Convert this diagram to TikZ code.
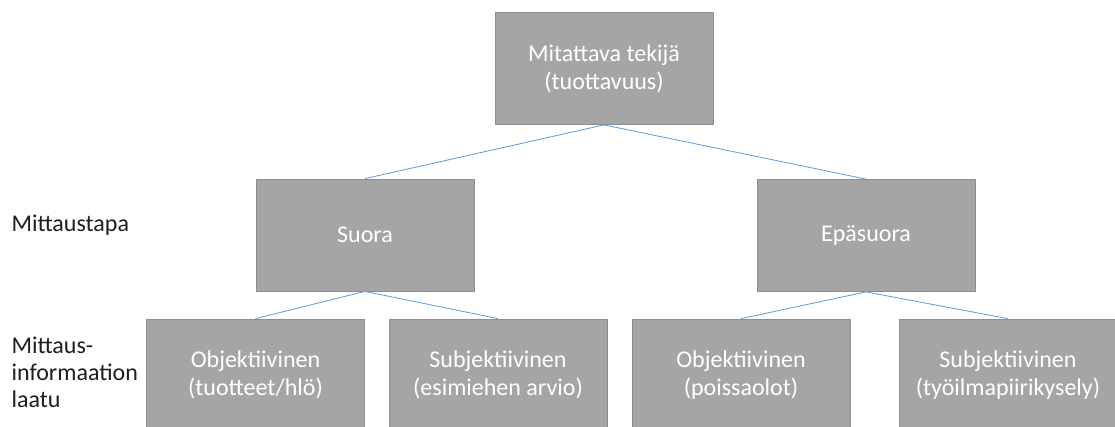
\documentclass[tikz,border=0pt]{standalone}
\usepackage{fontspec}
\setmainfont{Carlito}
\usepackage{tikz}

\definecolor{boxgray}{HTML}{A5A5A5}
\definecolor{boxedge}{HTML}{8E8E8E}
\definecolor{linkblue}{HTML}{5B9BD5}
\definecolor{labeltext}{HTML}{1E1E1E}

\begin{document}
\begin{tikzpicture}[x=1pt, y=-1pt,
    levelbox/.style={rectangle, draw=boxedge, line width=0.8pt, fill=boxgray,
        minimum width=218pt, minimum height=112pt, inner sep=0pt,
        text=white, align=center, font=\fontsize{24}{28}\selectfont},
    sidelabel/.style={anchor=west, align=left, text=labeltext,
        font=\fontsize{24}{27}\selectfont},
    link/.style={draw=linkblue, line width=0.8pt}]
    \clip (0,0) rectangle (1115,426);
    \fill[white] (0,0) rectangle (1115,426);

    % Top level
    \node[levelbox] (factor) at (604, 68.5) {Mitattava tekijä\\(tuottavuus)};

    % Measuring method
    \node[levelbox] (direct) at (365, 235) {Suora};
    \node[levelbox] (indirect) at (866, 235.5) {Epäsuora};

    % Quality of information
    \node[levelbox] (dirobj) at (255.5, 375) {Objektiivinen\\(tuotteet/hlö)};
    \node[levelbox] (dirsubj) at (498, 375) {Subjektiivinen\\(esimiehen arvio)};
    \node[levelbox] (indobj) at (741, 375) {Objektiivinen\\(poissaolot)};
    \node[levelbox] (indsubj) at (1008, 375) {Subjektiivinen\\(työilmapiirikysely)};

    % Links
    \draw[link] (factor.south) -- (direct.north);
    \draw[link] (factor.south) -- (indirect.north);
    \draw[link] (direct.south) -- (dirobj.north);
    \draw[link] (direct.south) -- (dirsubj.north);
    \draw[link] (indirect.south) -- (indobj.north);
    \draw[link] (indirect.south) -- (indsubj.north);

    % Labels
    \node[sidelabel] (method) at (8, 225) {Mittaustapa};
    \node[sidelabel] (quality) at (8, 372) {Mittaus-\\informaation\\laatu};
\end{tikzpicture}
\end{document}
